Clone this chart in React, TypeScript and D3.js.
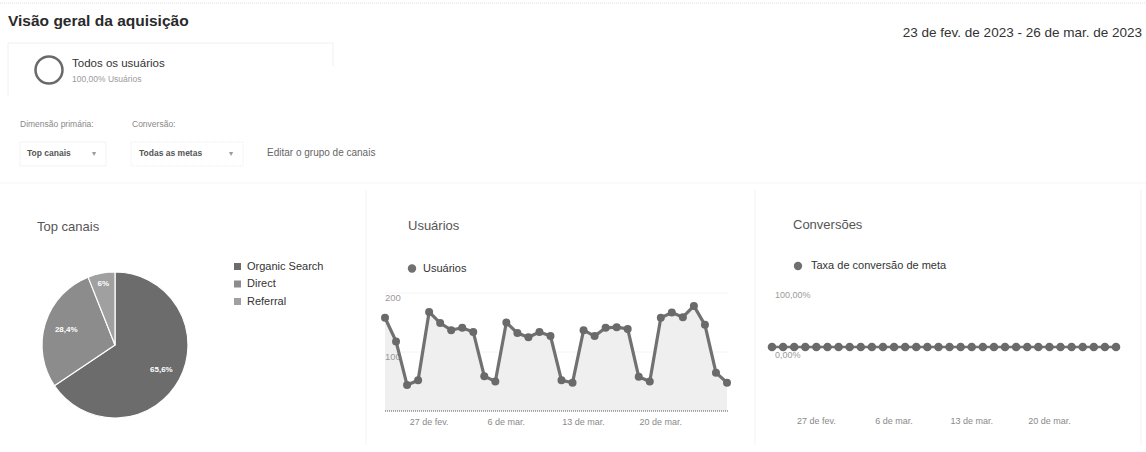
import React from "react";
import * as d3 from "d3";

const channels = ["Organic Search", "Direct", "Referral"];
const channelShares = [65.6, 28.4, 6];
const channelLabels = ["65,6%", "28,4%", "6%"];
const channelColors = ["#6c6c6c", "#8c8c8c", "#a0a0a0"];

const startDate = new Date(2023, 1, 23);
const endDate = new Date(2023, 2, 26);
const users = [158, 118, 44, 52, 168, 149, 137, 141, 134, 59, 50, 150, 132, 125, 134, 127, 52, 48, 137, 127, 141, 142, 139, 58, 50, 158, 167, 159, 178, 146, 65, 48];
const conversionRate = [0, 0, 0, 0, 0, 0, 0, 0, 0, 0, 0, 0, 0, 0, 0, 0, 0, 0, 0, 0, 0, 0, 0, 0, 0, 0, 0, 0, 0, 0, 0, 0];
const tickDates = [new Date(2023, 1, 27), new Date(2023, 2, 6), new Date(2023, 2, 13), new Date(2023, 2, 20)];
const tickLabels = ["27 de fev.", "6 de mar.", "13 de mar.", "20 de mar."];
const userTicks = [100, 200];
const convTicks = [0, 1];
const convTickLabels = ["0,00%", "100,00%"];

const FONT = "Arial, 'Liberation Sans', sans-serif";

export default function App() {
  const dates = d3.timeDay.range(startDate, d3.timeDay.offset(endDate, 1));

  // Pie
  const pieCx = 115, pieCy = 345, pieR = 73;
  const pie = d3.pie<number>().sort(null).value((d) => d)(channelShares);
  const arc = d3.arc<any>().innerRadius(0).outerRadius(pieR);
  const labelRadii = [0.72, 0.7, 0.85];

  // Users chart
  const ux = d3.scaleTime().domain([startDate, endDate]).range([385, 727]);
  const uy = d3.scaleLinear().domain([0, 200]).range([411, 293]);
  const uLine = d3.line<number>().x((_, i) => ux(dates[i])).y((d) => uy(d));
  const uArea = d3.area<number>().x((_, i) => ux(dates[i])).y0(uy(0)).y1((d) => uy(d));

  // Conversions chart
  const cx = d3.scaleTime().domain([startDate, endDate]).range([772, 1116]);
  const cy = d3.scaleLinear().domain([0, 1]).range([347, 287]);
  const cLine = d3.line<number>().x((_, i) => cx(dates[i])).y((d) => cy(d));

  return (
    <svg width={1146} height={452} style={{ position: "absolute", left: 0, top: 0, background: "#fff" }} fontFamily={FONT}>
      {/* top dotted border */}
      <line x1={0} x2={1146} y1={3} y2={3} stroke="#dcdcdc" strokeDasharray="1,1" />
      <text x={8} y={26} fontSize={15.5} fontWeight="bold" fill="#2a2a2a">Visão geral da aquisição</text>
      <text x={1142} y={37} fontSize={13.5} textAnchor="end" fill="#333">23 de fev. de 2023 - 26 de mar. de 2023</text>

      {/* segment box */}
      <path d="M8,97 V43 H333 V66" fill="none" stroke="#f0f0f0" />
      <circle cx={49} cy={70} r={13.5} fill="none" stroke="#6a6a6a" strokeWidth={2.5} />
      <text x={72} y={67} fontSize={11.5} fill="#333">Todos os usuários</text>
      <text x={72} y={82} fontSize={8.5} fill="#9a9a9a">100,00% Usuários</text>

      {/* filters */}
      <text x={20} y={127} fontSize={8.5} fill="#888">Dimensão primária:</text>
      <text x={132} y={127} fontSize={8.5} fill="#888">Conversão:</text>
      <rect x={20} y={142} width={86} height={24} fill="none" stroke="#f3f3f3" />
      <text x={27} y={156} fontSize={8.5} fontWeight="bold" fill="#555">Top canais</text>
      <text x={92} y={156} fontSize={8} fill="#999">▾</text>
      <rect x={131} y={142} width={112} height={24} fill="none" stroke="#eeeeee" strokeDasharray="1,1" />
      <text x={139} y={156} fontSize={8.5} fontWeight="bold" fill="#555">Todas as metas</text>
      <text x={229} y={156} fontSize={8} fill="#999">▾</text>
      <text x={267} y={156} fontSize={10} fill="#666">Editar o grupo de canais</text>

      {/* separators */}
      <line x1={0} x2={1146} y1={183} y2={183} stroke="#f5f5f5" />
      <line x1={366} x2={366} y1={190} y2={445} stroke="#f3f3f3" />
      <line x1={755} x2={755} y1={190} y2={445} stroke="#f3f3f3" />
      <line x1={1141} x2={1141} y1={190} y2={445} stroke="#f3f3f3" />

      {/* Panel 1: Top canais */}
      <text x={37} y={231} fontSize={13} fill="#555">Top canais</text>
      <g transform={`translate(${pieCx},${pieCy})`}>
        {pie.map((p, i) => (
          <path key={i} d={arc(p) as string} fill={channelColors[i]} stroke="#fff" strokeWidth={1.2} />
        ))}
        {pie.map((p, i) => {
          const r = pieR * labelRadii[i];
          const [lx, ly] = d3.arc<any>().innerRadius(r).outerRadius(r).centroid(p);
          return (
            <text key={i} x={lx} y={ly} fontSize={8} fontWeight="bold" fill="#fff" textAnchor="middle" dominantBaseline="middle">{channelLabels[i]}</text>
          );
        })}
      </g>
      {channels.map((c, i) => (
        <g key={c} transform={`translate(234,${267 + i * 17.5})`}>
          <rect x={0} y={-4} width={7} height={7} fill={channelColors[i]} />
          <text x={13} y={0} fontSize={11} fill="#333" dominantBaseline="middle">{c}</text>
        </g>
      ))}

      {/* Panel 2: Usuários */}
      <text x={408} y={230} fontSize={13} fill="#555">Usuários</text>
      <circle cx={412} cy={268.5} r={4.2} fill="#707070" />
      <text x={423} y={269} fontSize={11} fill="#333" dominantBaseline="middle">Usuários</text>
      {userTicks.map((t) => (
        <line key={t} x1={385} x2={728} y1={uy(t)} y2={uy(t)} stroke="#f4f4f4" />
      ))}
      <path d={uArea(users) as string} fill="#efefef" />
      {userTicks.map((t) => (
        <text key={t} x={385} y={uy(t) + 5} fontSize={9.5} fill="#9a9a9a" dominantBaseline="middle">{t}</text>
      ))}
      <line x1={385} x2={728} y1={uy(0)} y2={uy(0)} stroke="#555" strokeWidth={1} strokeDasharray="1,1" />
      <path d={uLine(users) as string} fill="none" stroke="#717171" strokeWidth={3.2} />
      {users.map((v, i) => (
        <circle key={i} cx={ux(dates[i])} cy={uy(v)} r={4} fill="#6a6a6a" />
      ))}
      {tickDates.map((d, i) => (
        <text key={i} x={ux(d)} y={425} fontSize={9} fill="#8a8a8a" textAnchor="middle">{tickLabels[i]}</text>
      ))}

      {/* Panel 3: Conversões */}
      <text x={793} y={229} fontSize={13} fill="#555">Conversões</text>
      <circle cx={798} cy={266} r={4.2} fill="#707070" />
      <text x={811} y={266.5} fontSize={11} fill="#333" dominantBaseline="middle">Taxa de conversão de meta</text>
      {convTicks.map((t, i) => (
        <text key={t} x={775} y={cy(t) + 9} fontSize={9} fill="#9a9a9a" dominantBaseline="middle">{convTickLabels[i]}</text>
      ))}
      <path d={cLine(conversionRate) as string} fill="none" stroke="#717171" strokeWidth={2.5} />
      {conversionRate.map((v, i) => (
        <circle key={i} cx={cx(dates[i])} cy={cy(v)} r={4.3} fill="#6a6a6a" />
      ))}
      {tickDates.map((d, i) => (
        <text key={i} x={cx(d)} y={424} fontSize={9} fill="#8a8a8a" textAnchor="middle">{tickLabels[i]}</text>
      ))}
    </svg>
  );
}
